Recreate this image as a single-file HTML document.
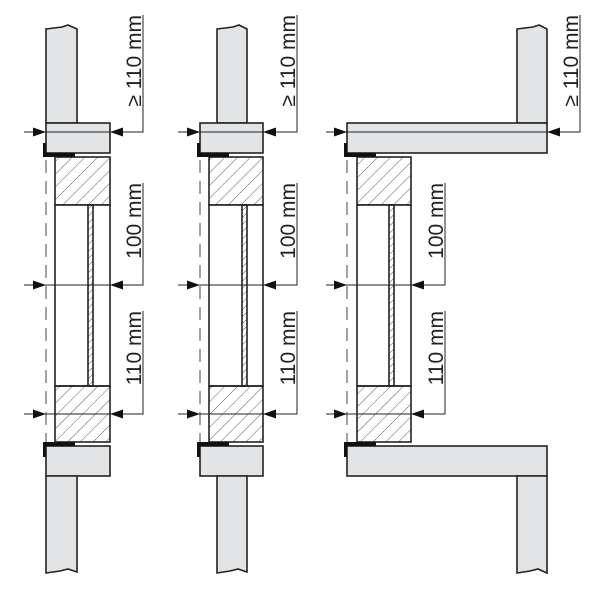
<!DOCTYPE html>
<html><head><meta charset="utf-8"><style>html,body{margin:0;padding:0;background:#fff}svg{display:block}</style></head>
<body>
<svg width="600" height="600" viewBox="0 0 600 600" xmlns="http://www.w3.org/2000/svg">
<defs>
<pattern id="h" patternUnits="userSpaceOnUse" width="9" height="9" patternTransform="rotate(45)">
<line x1="0" y1="0" x2="0" y2="9" stroke="#333" stroke-width="0.8"/></pattern>
<pattern id="g" patternUnits="userSpaceOnUse" width="5" height="5" patternTransform="rotate(45)">
<line x1="0" y1="0" x2="0" y2="5" stroke="#333" stroke-width="0.8"/></pattern>
<path id="ar" d="M0,0 L-13,-4.5 L-13,4.5 Z" fill="#111"/>
<path id="al" d="M0,0 L13,-4.5 L13,4.5 Z" fill="#111"/>
</defs>
<g font-family="Liberation Sans, DejaVu Sans, sans-serif" font-size="21" fill="#222">

<!-- Panel 1 -->
<g stroke="#222" stroke-width="1.6">
<path d="M46,29 L62,27 L68,25 L77,29 L77,123 L46,123 Z" fill="#e3e4e6"/>
<rect x="46" y="123" width="64" height="30" fill="#e3e4e6"/>
<rect x="55" y="157" width="55" height="48" fill="url(#h)"/>
<rect x="55" y="205" width="55" height="181" fill="#fff"/>
<rect x="88" y="205" width="5" height="181" fill="url(#g)"/>
<rect x="55" y="386" width="55" height="56" fill="url(#h)"/>
<rect x="46" y="446" width="64" height="30" fill="#e3e4e6"/>
<path d="M46,476 L77,476 L77,572 L68,569 L60,571 L46,573 Z" fill="#e3e4e6"/>
</g>
<rect x="43" y="143" width="3" height="14" fill="#111"/><rect x="43" y="153" width="32" height="4" fill="#111"/>
<rect x="43" y="443" width="3" height="14" fill="#111"/><rect x="43" y="442" width="32" height="4" fill="#111"/>
<line x1="46" y1="160" x2="46" y2="442" stroke="#444" stroke-width="1" stroke-dasharray="13,8"/>
<g stroke="#222" stroke-width="1" fill="none">
<line x1="24" y1="132" x2="46" y2="132"/><polyline points="46,132 143,132 143,15"/>
<line x1="24" y1="285" x2="46" y2="285"/><polyline points="46,285 143,285 143,183"/>
<line x1="24" y1="414" x2="46" y2="414"/><polyline points="46,414 143,414 143,311"/>
</g>
<use href="#ar" x="46" y="132"/><use href="#al" x="110" y="132"/>
<use href="#ar" x="46" y="285"/><use href="#al" x="110" y="285"/>
<use href="#ar" x="46" y="414"/><use href="#al" x="110" y="414"/>
<text transform="translate(141,15) rotate(-90)" text-anchor="end">≥ 110 mm</text>
<text transform="translate(141,183) rotate(-90)" text-anchor="end">100 mm</text>
<text transform="translate(141,311) rotate(-90)" text-anchor="end">110 mm</text>

<!-- Panel 2 -->
<g stroke="#222" stroke-width="1.6">
<path d="M217,29 L233,27 L239,25 L247,29 L247,123 L217,123 Z" fill="#e3e4e6"/>
<rect x="200" y="123" width="63" height="30" fill="#e3e4e6"/>
<rect x="209" y="157" width="54" height="48" fill="url(#h)"/>
<rect x="209" y="205" width="54" height="181" fill="#fff"/>
<rect x="242" y="205" width="5" height="181" fill="url(#g)"/>
<rect x="209" y="386" width="54" height="56" fill="url(#h)"/>
<rect x="200" y="446" width="63" height="30" fill="#e3e4e6"/>
<path d="M217,476 L247,476 L247,572 L238,569 L230,571 L217,573 Z" fill="#e3e4e6"/>
</g>
<rect x="197" y="143" width="3" height="14" fill="#111"/><rect x="197" y="153" width="32" height="4" fill="#111"/>
<rect x="197" y="443" width="3" height="14" fill="#111"/><rect x="197" y="442" width="32" height="4" fill="#111"/>
<line x1="200" y1="160" x2="200" y2="442" stroke="#444" stroke-width="1" stroke-dasharray="13,8"/>
<g stroke="#222" stroke-width="1" fill="none">
<line x1="178" y1="132" x2="200" y2="132"/><polyline points="200,132 297,132 297,15"/>
<line x1="178" y1="285" x2="200" y2="285"/><polyline points="200,285 297,285 297,183"/>
<line x1="178" y1="414" x2="200" y2="414"/><polyline points="200,414 297,414 297,311"/>
</g>
<use href="#ar" x="200" y="132"/><use href="#al" x="263" y="132"/>
<use href="#ar" x="200" y="285"/><use href="#al" x="263" y="285"/>
<use href="#ar" x="200" y="414"/><use href="#al" x="263" y="414"/>
<text transform="translate(295,15) rotate(-90)" text-anchor="end">≥ 110 mm</text>
<text transform="translate(295,183) rotate(-90)" text-anchor="end">100 mm</text>
<text transform="translate(295,311) rotate(-90)" text-anchor="end">110 mm</text>

<!-- Panel 3 -->
<g stroke="#222" stroke-width="1.6">
<path d="M517,29 L533,27 L539,25 L547,29 L547,123 L517,123 Z" fill="#e3e4e6"/>
<rect x="347" y="123" width="200" height="30" fill="#e3e4e6"/>
<rect x="357" y="157" width="54" height="48" fill="url(#h)"/>
<rect x="357" y="205" width="54" height="181" fill="#fff"/>
<rect x="389" y="205" width="5" height="181" fill="url(#g)"/>
<rect x="357" y="386" width="54" height="56" fill="url(#h)"/>
<rect x="347" y="446" width="200" height="30" fill="#e3e4e6"/>
<path d="M517,476 L547,476 L547,573 L538,569 L530,571 L517,573 Z" fill="#e3e4e6"/>
</g>
<rect x="344" y="143" width="3" height="14" fill="#111"/><rect x="344" y="153" width="32" height="4" fill="#111"/>
<rect x="344" y="443" width="3" height="14" fill="#111"/><rect x="344" y="442" width="32" height="4" fill="#111"/>
<line x1="347" y1="160" x2="347" y2="442" stroke="#444" stroke-width="1" stroke-dasharray="13,8"/>
<g stroke="#222" stroke-width="1" fill="none">
<line x1="326" y1="132" x2="347" y2="132"/><polyline points="347,132 580,132 580,15"/>
<line x1="326" y1="285" x2="347" y2="285"/><polyline points="347,285 445,285 445,183"/>
<line x1="326" y1="414" x2="347" y2="414"/><polyline points="347,414 445,414 445,311"/>
</g>
<use href="#ar" x="347" y="132"/><use href="#al" x="547" y="132"/>
<use href="#ar" x="347" y="285"/><use href="#al" x="411" y="285"/>
<use href="#ar" x="347" y="414"/><use href="#al" x="411" y="414"/>
<text transform="translate(578,15) rotate(-90)" text-anchor="end">≥ 110 mm</text>
<text transform="translate(443,183) rotate(-90)" text-anchor="end">100 mm</text>
<text transform="translate(443,311) rotate(-90)" text-anchor="end">110 mm</text>
</g>
</svg>
</body></html>
